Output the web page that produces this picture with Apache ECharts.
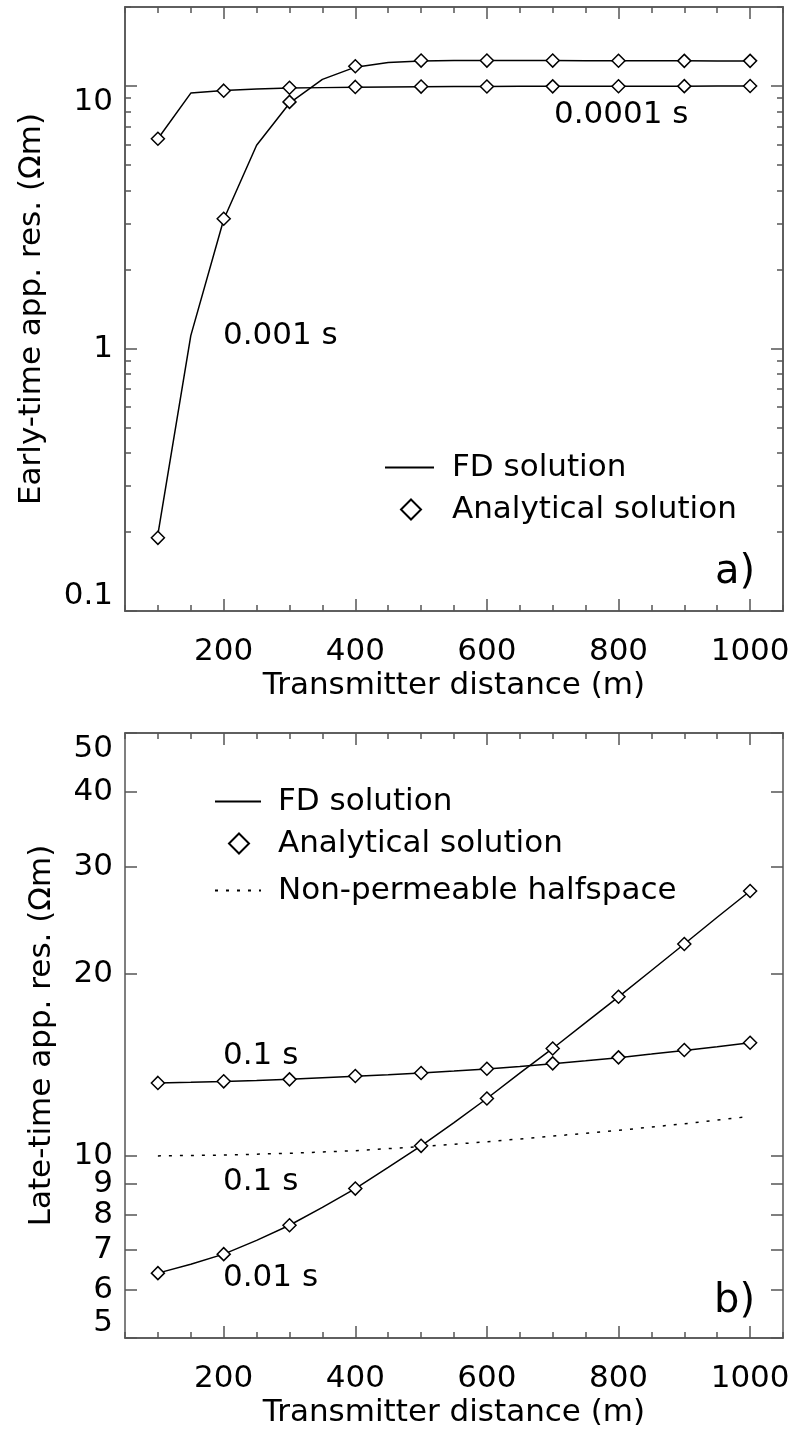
<!DOCTYPE html>
<html>
<head>
<meta charset="utf-8">
<script src="https://cdn.jsdelivr.net/npm/echarts@6/dist/echarts.min.js"></script>
<style>
html,body{margin:0;padding:0;background:#fff;}
#chart{width:795px;height:1432px;}
</style>
</head>
<body>
<div id="chart"></div>
<script>
// transmitter distances (m)
const distFD = [100,150,200,250,300,350,400,450,500,550,600,650,700,750,800,850,900,950,1000];
const distAn = [100,200,300,400,500,600,700,800,900,1000];

// a) early-time apparent resistivity (ohm-m)
const early1e4FD = [6.3,9.4,9.62,9.75,9.82,9.86,9.9,9.92,9.94,9.95,9.96,9.97,9.97,9.98,9.98,9.99,9.99,10.0,10.0];
const early1e4An = [6.3,9.6,9.85,9.92,9.95,9.96,9.97,9.98,9.99,10.0];
const early1e3FD = [0.196,1.12,3.1,5.95,8.6,10.6,11.8,12.3,12.45,12.5,12.5,12.5,12.5,12.48,12.48,12.47,12.47,12.46,12.46];
const early1e3An = [0.19,3.12,8.7,11.9,12.5,12.5,12.5,12.48,12.47,12.47];

// b) late-time apparent resistivity (ohm-m)
const late01FD = [13.2,13.23,13.27,13.32,13.38,13.46,13.54,13.62,13.71,13.81,13.92,14.05,14.2,14.36,14.53,14.73,14.94,15.15,15.38];
const late01An = [13.2,13.28,13.38,13.55,13.71,13.93,14.22,14.55,14.96,15.38];
const late001FD = [6.4,6.62,6.88,7.25,7.68,8.22,8.83,9.57,10.39,11.35,12.44,13.7,15.05,16.6,18.32,20.25,22.4,24.8,27.4];
const late001An = [6.4,6.88,7.68,8.83,10.39,12.44,15.05,18.32,22.4,27.4];
const halfspace = [10.0,10.03,10.1,10.2,10.36,10.55,10.78,11.02,11.3,11.62];

// ticks
const xMajor = [200,400,600,800,1000];
const xMinor = [50,100,150,250,300,350,450,500,550,650,700,750,850,900,950,1050];
const yTopMajor = [0.1,1,10];
const yTopMinor = [0.2,0.3,0.4,0.5,0.6,0.7,0.8,0.9,2,3,4,5,6,7,8,9,20];
const yBotTicks = [5,6,7,8,9,10,20,30,40,50];

const font = 'DejaVu Sans';
const fsize = 31;
const frame = '#555';
const lg = v => Math.log10(v);
const pairs = (xs, ys) => xs.map((x, i) => [x, lg(ys[i])]);
const fmt = v => String(+Math.pow(10, v).toPrecision(6));

const labelStyle = {fontSize: fsize, fontFamily: font, color: '#000'};

function xAx(grid, pos, ticks, len, labels) {
  const a = {
    type: 'value', gridIndex: grid, position: pos, min: 50, max: 1050,
    axisLine: {onZero: false, lineStyle: {color: frame, width: 1.5}},
    axisTick: {inside: true, length: len, customValues: ticks, lineStyle: {color: frame, width: 1.5}},
    axisLabel: {show: false},
    splitLine: {show: false}
  };
  if (labels) {
    a.axisLabel = Object.assign({show: true, customValues: ticks, margin: 25, formatter: v => String(v)}, labelStyle);
    a.name = 'Transmitter distance (m)';
    a.nameLocation = 'middle';
    a.nameGap = 59;
    a.nameTextStyle = labelStyle;
  }
  return a;
}

function yAx(grid, pos, lo, hi, ticks, len, name, gap) {
  const a = {
    type: 'value', gridIndex: grid, position: pos, min: lg(lo), max: lg(hi),
    axisLine: {onZero: false, lineStyle: {color: frame, width: 1.5}},
    axisTick: {inside: true, length: len, customValues: ticks.map(lg), lineStyle: {color: frame, width: 1.5}},
    axisLabel: {show: false},
    splitLine: {show: false}
  };
  if (name) {
    a.axisLabel = Object.assign({
      show: true, customValues: ticks.map(lg), margin: 12, formatter: fmt,
      verticalAlignMinLabel: 'bottom', verticalAlignMaxLabel: 'top'
    }, labelStyle);
    a.name = name;
    a.nameLocation = 'middle';
    a.nameGap = gap;
    a.nameTextStyle = labelStyle;
  }
  return a;
}

const fdLine = (name, xi, yi, xs, ys, dotted) => ({
  name: name, type: 'line', xAxisIndex: xi, yAxisIndex: yi,
  data: pairs(xs, ys), symbol: 'none', smooth: false, z: 2,
  lineStyle: {color: '#000', width: 1.5, type: dotted ? [3, 8] : 'solid'},
  itemStyle: {color: '#000'}
});
const anPts = (xi, yi, ys) => ({
  name: 'Analytical solution', type: 'scatter', xAxisIndex: xi, yAxisIndex: yi,
  data: pairs(distAn, ys), symbol: 'diamond', symbolSize: 13, z: 3,
  itemStyle: {color: '#fff', borderColor: '#000', borderWidth: 1.5, opacity: 1}
});

const txt = (x, y, s, size, align) => ({
  type: 'text', x: x, y: y,
  style: {text: s, fontSize: size || fsize, fontFamily: font, fill: '#000',
          align: align || 'left', verticalAlign: 'middle'}
});

// one legend per entry so line samples and the diamond can have their own widths
function leg(name, left, top, w, h, pad, isLine) {
  const l = {
    data: [name], left: left, top: top, padding: 0, itemWidth: w, itemHeight: h,
    selectedMode: false,
    textStyle: {fontSize: fsize, fontFamily: font, color: '#000', padding: [0, 0, 0, pad]}
  };
  if (isLine) l.itemStyle = {opacity: 0};
  return l;
}

const chart = echarts.init(document.getElementById('chart'));
chart.setOption({
  animation: false,
  backgroundColor: '#fff',
  grid: [
    {left: 125, right: 12, top: 7, height: 604},
    {left: 125, right: 12, top: 733, height: 605}
  ],
  xAxis: [
    xAx(0, 'bottom', xMajor, 12, true),
    xAx(0, 'bottom', xMinor, 6, false),
    xAx(0, 'top', xMajor, 12, false),
    xAx(0, 'top', xMinor, 6, false),
    xAx(1, 'bottom', xMajor, 12, true),
    xAx(1, 'bottom', xMinor, 6, false),
    xAx(1, 'top', xMajor, 12, false),
    xAx(1, 'top', xMinor, 6, false)
  ],
  yAxis: [
    yAx(0, 'left', 0.1, 20, yTopMajor, 12, 'Early-time app. res. (Ωm)', 78),
    yAx(0, 'left', 0.1, 20, yTopMinor, 6),
    yAx(0, 'right', 0.1, 20, yTopMajor, 12),
    yAx(0, 'right', 0.1, 20, yTopMinor, 6),
    yAx(1, 'left', 5, 50, yBotTicks, 12, 'Late-time app. res. (Ωm)', 68),
    yAx(1, 'right', 5, 50, yBotTicks, 12)
  ],
  legend: [
    leg('FD solution', 384, 452, 49, 13, 13, true),
    leg('Analytical solution', 400, 494, 20, 20, 26, false),
    leg('FD solution', 214, 786, 46, 13, 12, true),
    leg('Analytical solution', 228, 828, 20, 20, 24, false),
    leg('Non-permeable halfspace', 214, 875, 46, 13, 12, true)
  ],
  series: [
    fdLine('FD solution', 0, 0, distFD, early1e4FD),
    fdLine('FD solution', 0, 0, distFD, early1e3FD),
    anPts(0, 0, early1e4An),
    anPts(0, 0, early1e3An),
    fdLine('FD solution', 4, 4, distFD, late01FD),
    fdLine('FD solution', 4, 4, distFD, late001FD),
    fdLine('Non-permeable halfspace', 4, 4, distAn, halfspace, true),
    anPts(4, 4, late01An),
    anPts(4, 4, late001An)
  ],
  graphic: [
    txt(554, 115, '0.0001 s'),
    txt(223, 336, '0.001 s'),
    txt(223, 1056, '0.1 s'),
    txt(223, 1182, '0.1 s'),
    txt(223, 1278, '0.01 s'),
    txt(755, 573, 'a)', 40, 'right'),
    txt(755, 1302, 'b)', 40, 'right')
  ]
});
</script>
</body>
</html>
